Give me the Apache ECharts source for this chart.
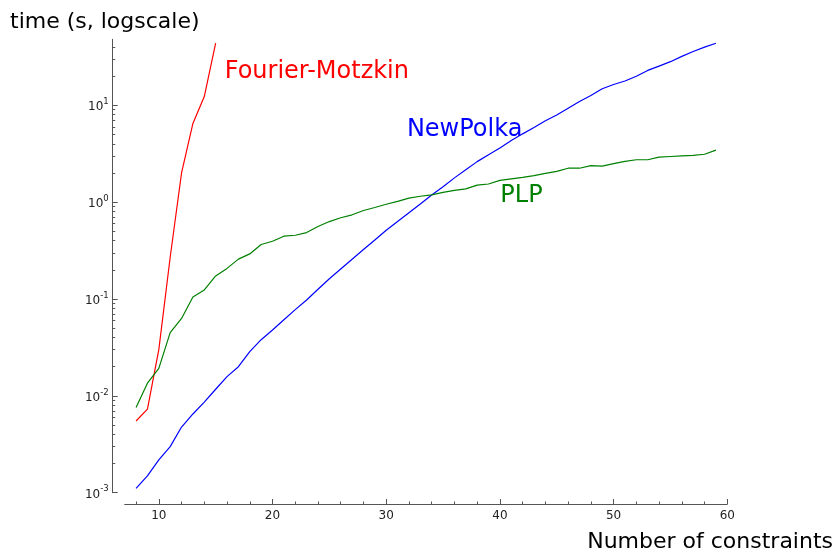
<!DOCTYPE html>
<html><head><meta charset="utf-8">
<script src="https://cdn.jsdelivr.net/npm/echarts@6/dist/echarts.min.js"></script>
<style>html,body{margin:0;padding:0;background:#fff}#c{width:838px;height:553px}</style>
</head><body><div id="c"></div>
<script>
// ---- data ----
const constraints = [8,9,10,11,12,13,14,15,16,17,18,19,20,21,22,23,24,25,26,27,28,29,30,31,32,33,34,35,36,37,38,39,40,41,42,43,44,45,46,47,48,49,50,51,52,53,54,55,56,57,58,59];
const fmConstraints = [8,9,10,11,12,13,14,15];
const fourierMotzkin = [0.0055,0.0073,0.030,0.27,2.0,6.5,12.3,43.7];
const newPolka = [0.00111,0.00149,0.00218,0.00299,0.00476,0.0065,0.00863,0.0117,0.0158,0.0200,0.0286,0.038,0.0479,0.061,0.0776,0.0977,0.126,0.162,0.204,0.257,0.324,0.407,0.513,0.631,0.776,0.955,1.186,1.445,1.78,2.16,2.62,3.09,3.63,4.32,5.07,5.89,6.92,7.94,9.33,10.96,12.6,14.8,16.4,17.8,19.95,22.9,25.4,28.2,32.0,35.9,39.8,43.7];
const plp = [0.0076,0.0135,0.0192,0.045,0.063,0.105,0.124,0.173,0.207,0.258,0.292,0.365,0.395,0.445,0.455,0.485,0.56,0.63,0.69,0.74,0.82,0.88,0.95,1.02,1.10,1.15,1.19,1.26,1.32,1.37,1.50,1.54,1.68,1.74,1.80,1.88,1.98,2.08,2.24,2.24,2.38,2.35,2.50,2.64,2.74,2.74,2.92,2.96,3.00,3.04,3.12,3.44];
const xMajorTicks = [10,20,30,40,50,60];
const xMinorTicks = [8,12,14,16,18,22,24,26,28,32,34,36,38,42,44,46,48,52,54,56,58];
const yMajorTicks = [0.001,0.01,0.1,1,10];
const yMinorTicks = [0.002,0.003,0.004,0.005,0.006,0.007,0.008,0.009,0.02,0.03,0.04,0.05,0.06,0.07,0.08,0.09,0.2,0.3,0.4,0.5,0.6,0.7,0.8,0.9,2,3,4,5,6,7,8,9,20,30,40];
const annotationNames = ['Fourier-Motzkin','NewPolka','PLP'];
const annotationX = [23.9, 36.9, 41.9];
const annotationY = [23.1, 5.83, 1.21];
const yTitle = 'time (s, logscale)';
const xTitle = 'Number of constraints';

// ---- styling ----
const AX = '#555';
const FONT = 'DejaVu Sans';
const colors = ['#ff0000', '#0000ff', '#008000'];
const chart = echarts.init(document.getElementById('c'), null, {renderer: 'canvas'});

function pairs(xsArr, ys) { return ys.map((v, i) => [xsArr[i], v]); }

const baseX = {type: 'value', min: 7, max: 60, offset: 11.3, position: 'bottom',
  splitLine: {show: false}, minorTick: {show: false}};
const baseY = {type: 'log', logBase: 10, min: 0.001, max: 48, offset: 12, position: 'left',
  splitLine: {show: false}, minorTick: {show: false}};

const option = {
  animation: false,
  backgroundColor: '#fff',
  grid: {left: 124.7, right: 110.7, top: 39.3, bottom: 60.3, containLabel: false},
  title: [
    {text: yTitle, left: 10, top: 11, padding: 0,
     textStyle: {fontFamily: FONT, fontSize: 22, fontWeight: 'normal', color: '#000'}},
    {text: xTitle, right: 5, top: 531, padding: 0,
     textStyle: {fontFamily: FONT, fontSize: 22, fontWeight: 'normal', color: '#000'}}
  ],
  xAxis: [
    Object.assign({}, baseX, {
      axisLine: {show: true, onZero: false, lineStyle: {color: AX, width: 1}},
      axisTick: {show: true, inside: true, length: 5, customValues: xMajorTicks, lineStyle: {color: AX}},
      axisLabel: {show: true, customValues: xMajorTicks, margin: 6,
        fontFamily: FONT, fontSize: 12, color: '#222'}
    }),
    Object.assign({}, baseX, {
      axisLine: {show: false},
      axisTick: {show: true, inside: true, length: 2.5, customValues: xMinorTicks, lineStyle: {color: AX}},
      axisLabel: {show: false}
    })
  ],
  yAxis: [
    Object.assign({}, baseY, {
      axisLine: {show: true, onZero: false, lineStyle: {color: AX, width: 1}},
      axisTick: {show: true, inside: true, length: 5, customValues: yMajorTicks, lineStyle: {color: AX}},
      axisLabel: {show: true, customValues: yMajorTicks, margin: 4,
        formatter: function (v) {
          const e = Math.round(Math.log10(v));
          return '{b|10}{s|' + (e < 0 ? '-' : '') + Math.abs(e) + '}';
        },
        rich: {
          b: {fontFamily: FONT, fontSize: 12, color: '#222', lineHeight: 16, verticalAlign: 'bottom'},
          s: {fontFamily: FONT, fontSize: 8.5, color: '#222', lineHeight: 9, verticalAlign: 'top'}
        }
      }
    }),
    Object.assign({}, baseY, {
      axisLine: {show: false},
      axisTick: {show: true, inside: true, length: 2.5, customValues: yMinorTicks, lineStyle: {color: AX}},
      axisLabel: {show: false}
    })
  ],
  series: [
    {name: 'Fourier-Motzkin', type: 'line', data: pairs(fmConstraints, fourierMotzkin),
     showSymbol: false, symbol: 'none', color: colors[0], lineStyle: {width: 1.2, color: colors[0]}},
    {name: 'NewPolka', type: 'line', data: pairs(constraints, newPolka),
     showSymbol: false, symbol: 'none', color: colors[1], lineStyle: {width: 1.2, color: colors[1]}},
    {name: 'PLP', type: 'line', data: pairs(constraints, plp),
     showSymbol: false, symbol: 'none', color: colors[2], lineStyle: {width: 1.2, color: colors[2]}}
  ].concat(annotationNames.map((n, i) => ({
    name: n + ' label', type: 'scatter', symbolSize: 0.01,
    itemStyle: {color: colors[i], opacity: 0},
    data: [[annotationX[i], annotationY[i]]],
    label: {show: true, position: [0, 0], offset: [0, 2], align: 'center', verticalAlign: 'middle', formatter: n,
      fontFamily: FONT, fontSize: 24, color: colors[i], opacity: 1, textBorderWidth: 0},
    silent: true
  })))
};
chart.setOption(option);
</script>
</body></html>
